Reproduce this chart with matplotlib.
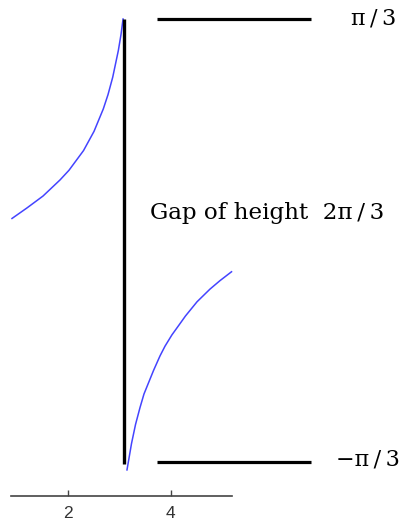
import matplotlib
matplotlib.use("Agg")
import matplotlib.pyplot as plt
import numpy as np

# data
left_x = [0.918, 1.210, 1.520, 1.850, 2.025, 2.307, 2.511, 2.691, 2.783, 2.874, 2.983, 3.035, 3.064, 3.075]
left_y = [0.104, 0.154, 0.210, 0.286, 0.332, 0.425, 0.516, 0.622, 0.690, 0.772, 0.898, 0.974, 1.028, 1.047]
right_x = [3.151, 3.239, 3.317, 3.404, 3.481, 3.666, 3.792, 3.889, 4.025, 4.161, 4.287, 4.511, 4.763, 4.957, 5.181]
right_y = [-1.085, -0.960, -0.870, -0.790, -0.726, -0.615, -0.546, -0.500, -0.446, -0.400, -0.357, -0.290, -0.230, -0.190, -0.148]
jump_x = 3.097
level_hi = np.pi / 3
level_lo = -np.pi / 3
tick_values = [2, 4]
tick_labels = ["2", "4"]
label_hi = "π\u2009/\u20093"
label_lo = "−π\u2009/\u20093"
label_gap = "Gap of height  2π\u2009/\u20093"

fig = plt.figure(figsize=(4.03, 5.23), dpi=100)
ax = fig.add_axes([0, 0, 1, 1])
ax.set_xlim(0.685, 8.511)
ax.set_ylim(-1.336, 1.137)
ax.patch.set_alpha(0)

ax.plot(left_x, left_y, color="#4444ff", lw=1.1)
ax.plot(right_x, right_y, color="#4444ff", lw=1.1)

ax.plot([jump_x, jump_x], [level_lo - 0.01, level_hi], color="black", lw=2.4, solid_capstyle="butt")
ax.plot([3.734, 6.724], [level_hi, level_hi], color="black", lw=2.3, solid_capstyle="butt")
ax.plot([3.734, 6.724], [level_lo, level_lo], color="black", lw=2.3, solid_capstyle="butt")

serif = ["DejaVu Serif", "DejaVu Sans"]
ax.text(7.50, level_hi, label_hi, fontsize=16, family=serif, va="center", ha="left")
ax.text(7.21, level_lo + 0.01, label_lo, fontsize=16, family=serif, va="center", ha="left")
ax.text(3.598, 0.130, label_gap, fontsize=16.6, family=serif, va="center", ha="left")

for s in ["top", "left", "right"]:
    ax.spines[s].set_visible(False)
ax.spines["bottom"].set_position(("data", -1.208))
ax.spines["bottom"].set_bounds(0.899, 5.19)
ax.spines["bottom"].set_color("#444444")
ax.spines["bottom"].set_linewidth(1.2)
ax.set_xticks(tick_values)
ax.set_xticklabels(tick_labels, family=["Liberation Sans"], fontsize=12.5, color="#333333")
ax.tick_params(axis="x", direction="in", length=4.5, width=1, color="#444444", pad=7)
ax.set_yticks([])

fig.savefig("out.png", dpi=100)
